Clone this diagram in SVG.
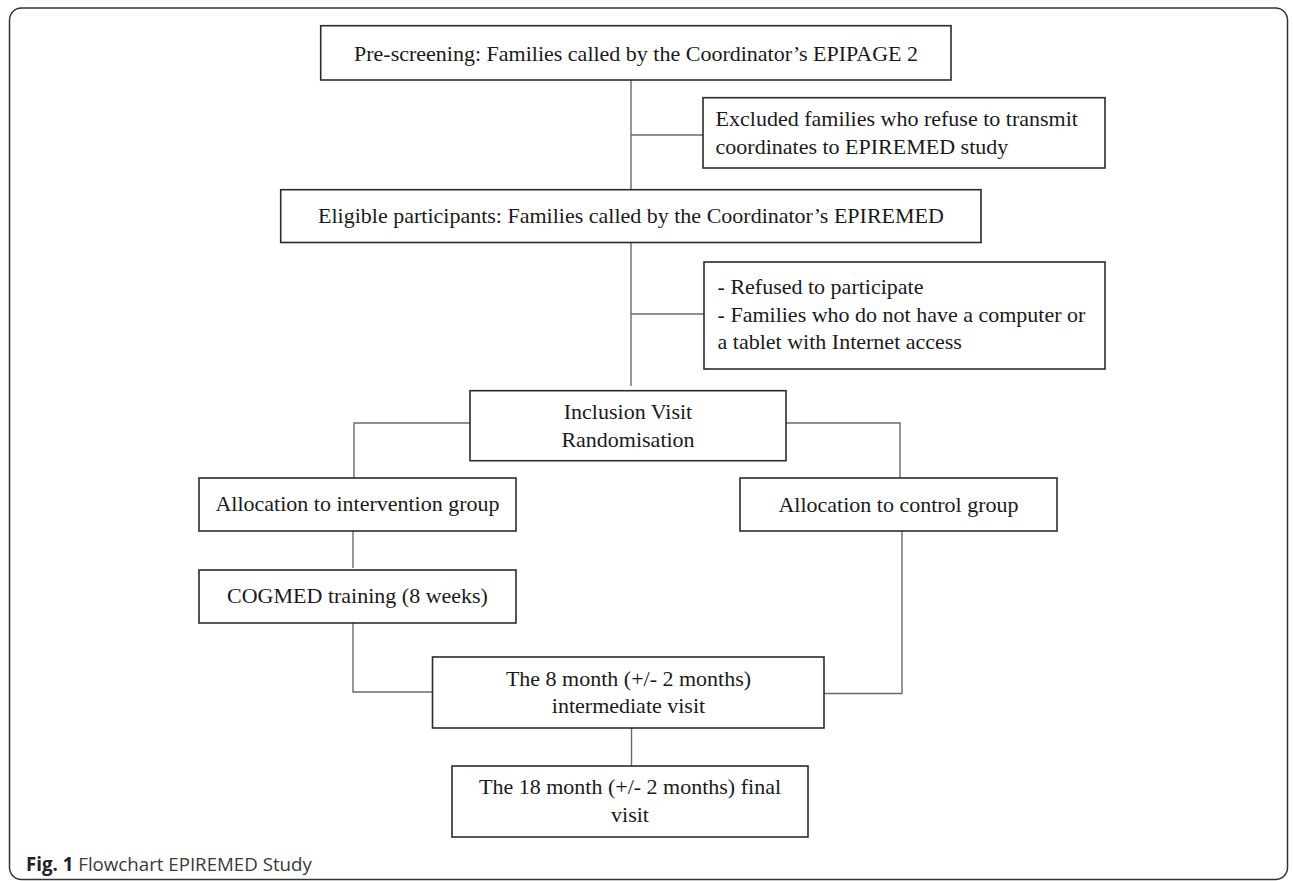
<svg xmlns="http://www.w3.org/2000/svg" width="1293" height="881" viewBox="0 0 1293 881">
<style>
.box{fill:#fff;stroke:#2b2b2b;stroke-width:1.6}
.t{font-family:"Liberation Serif","Times New Roman",serif;font-size:22px;fill:#1a1a1a}
.c{text-anchor:middle}
.con{fill:none;stroke:#6a6a6a;stroke-width:1.4}
.cap{font-family:"Open Sans","Noto Sans",sans-serif;font-size:18.7px;fill:#3a3a3a}
</style>
<rect x="9.5" y="8" width="1278" height="871.5" rx="12" fill="#fff" stroke="#333" stroke-width="1.5"/>
<g id="connectors">
<path class="con" d="M631 80V190M631 135H703"/>
<path class="con" d="M631 243V386M631 314H704"/>
<path class="con" d="M470 423H354V478"/>
<path class="con" d="M786 423H900V478"/>
<path class="con" d="M353 531V568"/>
<path class="con" d="M353 623V692H433"/>
<path class="con" d="M902 531V693.5H824"/>
<path class="con" d="M631.5 728V766"/>
</g>
<g id="prescreening">
<rect class="box" x="320.7" y="25.7" width="630.3" height="54.3"/>
<text class="t c" x="636" y="61">Pre-screening: Families called by the Coordinator’s EPIPAGE 2</text>
</g>
<g id="excluded">
<rect class="box" x="703" y="97.7" width="402" height="70.3"/>
<text class="t" x="715.6" y="126">Excluded families who refuse to transmit</text>
<text class="t" x="715.6" y="153.5">coordinates to EPIREMED study</text>
</g>
<g id="eligible">
<rect class="box" x="280.7" y="189.7" width="700.3" height="52.8"/>
<text class="t c" x="631" y="223">Eligible participants: Families called by the Coordinator’s EPIREMED</text>
</g>
<g id="refused">
<rect class="box" x="704" y="262" width="401" height="107"/>
<text class="t" x="717.6" y="294">- Refused to participate</text>
<text class="t" x="717.6" y="321.7">- Families who do not have a computer or</text>
<text class="t" x="717.6" y="349">a tablet with Internet access</text>
</g>
<g id="inclusion">
<rect class="box" x="470" y="390.7" width="316" height="70"/>
<text class="t c" x="628" y="419">Inclusion Visit</text>
<text class="t c" x="628" y="446.5">Randomisation</text>
</g>
<g id="alloc-intervention">
<rect class="box" x="199" y="478" width="317" height="53"/>
<text class="t c" x="357.5" y="511">Allocation to intervention group</text>
</g>
<g id="alloc-control">
<rect class="box" x="740" y="478" width="317" height="53"/>
<text class="t c" x="898.5" y="511.5">Allocation to control group</text>
</g>
<g id="cogmed">
<rect class="box" x="199" y="570" width="317" height="53"/>
<text class="t c" x="357.5" y="603.3">COGMED training (8 weeks)</text>
</g>
<g id="intermediate">
<rect class="box" x="432.5" y="657" width="391.5" height="71"/>
<text class="t c" x="628.5" y="686">The 8 month (+/- 2 months)</text>
<text class="t c" x="628.5" y="712.7">intermediate visit</text>
</g>
<g id="final">
<rect class="box" x="452" y="766" width="356" height="71"/>
<text class="t c" x="630" y="794">The 18 month (+/- 2 months) final</text>
<text class="t c" x="630" y="821.7">visit</text>
</g>
<text class="cap" x="26" y="870.5"><tspan font-weight="bold" fill="#222">Fig. 1</tspan> Flowchart EPIREMED Study</text>
</svg>
